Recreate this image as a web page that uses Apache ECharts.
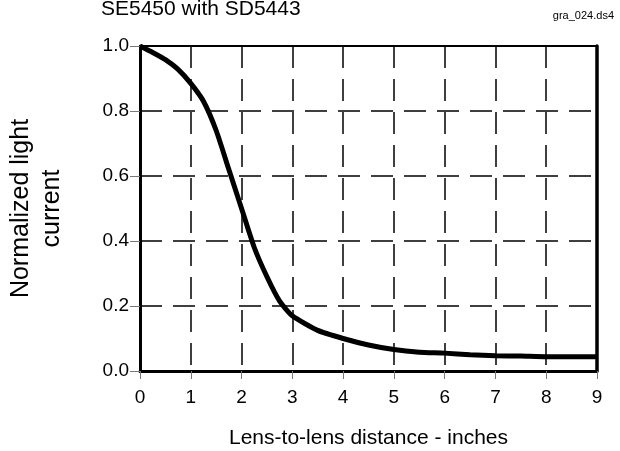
<!DOCTYPE html>
<html>
<head>
<meta charset="utf-8">
<script src="https://cdn.jsdelivr.net/npm/echarts@6/dist/echarts.min.js"></script>
<style>html,body{margin:0;padding:0;background:#fff}#c{width:620px;height:451px}</style>
</head>
<body>
<div id="c"></div>
<script>
var xValues = [0, 0.25, 0.5, 0.75, 1.0, 1.25, 1.5, 1.75, 2.0, 2.25, 2.5, 2.75, 3.0, 3.5, 4.0, 4.5, 5.0, 5.5, 6.0, 6.5, 7.0, 7.5, 8.0, 9.0];
var yValues = [1.0, 0.98, 0.958, 0.928, 0.885, 0.83, 0.74, 0.62, 0.5, 0.38, 0.29, 0.215, 0.17, 0.125, 0.10, 0.08, 0.066, 0.058, 0.055, 0.05, 0.047, 0.046, 0.044, 0.044];
var titleText = 'SE5450 with SD5443';
var fileTag = 'gra_024.ds4';
var xTitle = 'Lens-to-lens distance - inches';
var yTitle = 'Normalized light\ncurrent';

var FONT = '"Liberation Sans", Arial, sans-serif';
var data = xValues.map(function (x, i) { return [x, yValues[i]]; });
var chart = echarts.init(document.getElementById('c'), null, {renderer: 'canvas'});
var gridDash = {color: '#000', width: 1.5, type: [22, 11]};
chart.setOption({
  animation: false,
  backgroundColor: '#fff',
  title: [
    {text: titleText, left: 96, top: -6, textStyle: {fontFamily: FONT, fontSize: 21, fontWeight: 'normal', color: '#000'}},
    {text: fileTag, right: 1, top: 5, textStyle: {fontFamily: FONT, fontSize: 11, fontWeight: 'normal', color: '#000'}}
  ],
  grid: {left: 140, top: 46, right: 23, bottom: 80, containLabel: false, outerBoundsMode: 'none'},
  xAxis: [{
    type: 'value', min: 0, max: 9, interval: 1, position: 'bottom',
    name: xTitle, nameLocation: 'middle', nameGap: 57,
    nameTextStyle: {fontFamily: FONT, fontSize: 21, color: '#000'},
    axisLine: {onZero: false, lineStyle: {color: '#000', width: 3}},
    axisTick: {show: true, length: 8, lineStyle: {color: '#777', width: 1}},
    axisLabel: {fontFamily: FONT, fontSize: 19, color: '#000', margin: 17},
    splitLine: {show: true, lineStyle: gridDash}
  }, {
    type: 'value', min: 0, max: 9, interval: 1, position: 'top',
    axisLine: {onZero: false, lineStyle: {color: '#000', width: 2}},
    axisTick: {show: false}, axisLabel: {show: false}, splitLine: {show: false}
  }],
  yAxis: [{
    type: 'value', min: 0, max: 1, interval: 0.2, position: 'left',
    name: yTitle, nameLocation: 'middle', nameGap: 72, nameRotate: 90,
    nameTextStyle: {fontFamily: FONT, fontSize: 25, color: '#000', lineHeight: 31},
    axisLine: {show: true, onZero: false, lineStyle: {color: '#000', width: 3}},
    axisTick: {show: true, length: 10, lineStyle: {color: '#777', width: 1}},
    axisLabel: {fontFamily: FONT, fontSize: 19, color: '#000', margin: 11,
      formatter: function (v) { return v.toFixed(1); }},
    splitLine: {show: true, lineStyle: gridDash}
  }, {
    type: 'value', min: 0, max: 1, interval: 0.2, position: 'right',
    axisLine: {show: true, onZero: false, lineStyle: {color: '#000', width: 3.5}},
    axisTick: {show: false}, axisLabel: {show: false}, splitLine: {show: false}
  }],
  series: [{
    type: 'line', data: data, xAxisIndex: 0, yAxisIndex: 0,
    smooth: 0.2, showSymbol: false, symbol: 'none',
    lineStyle: {color: '#000', width: 5}
  }]
});
</script>
</body>
</html>
